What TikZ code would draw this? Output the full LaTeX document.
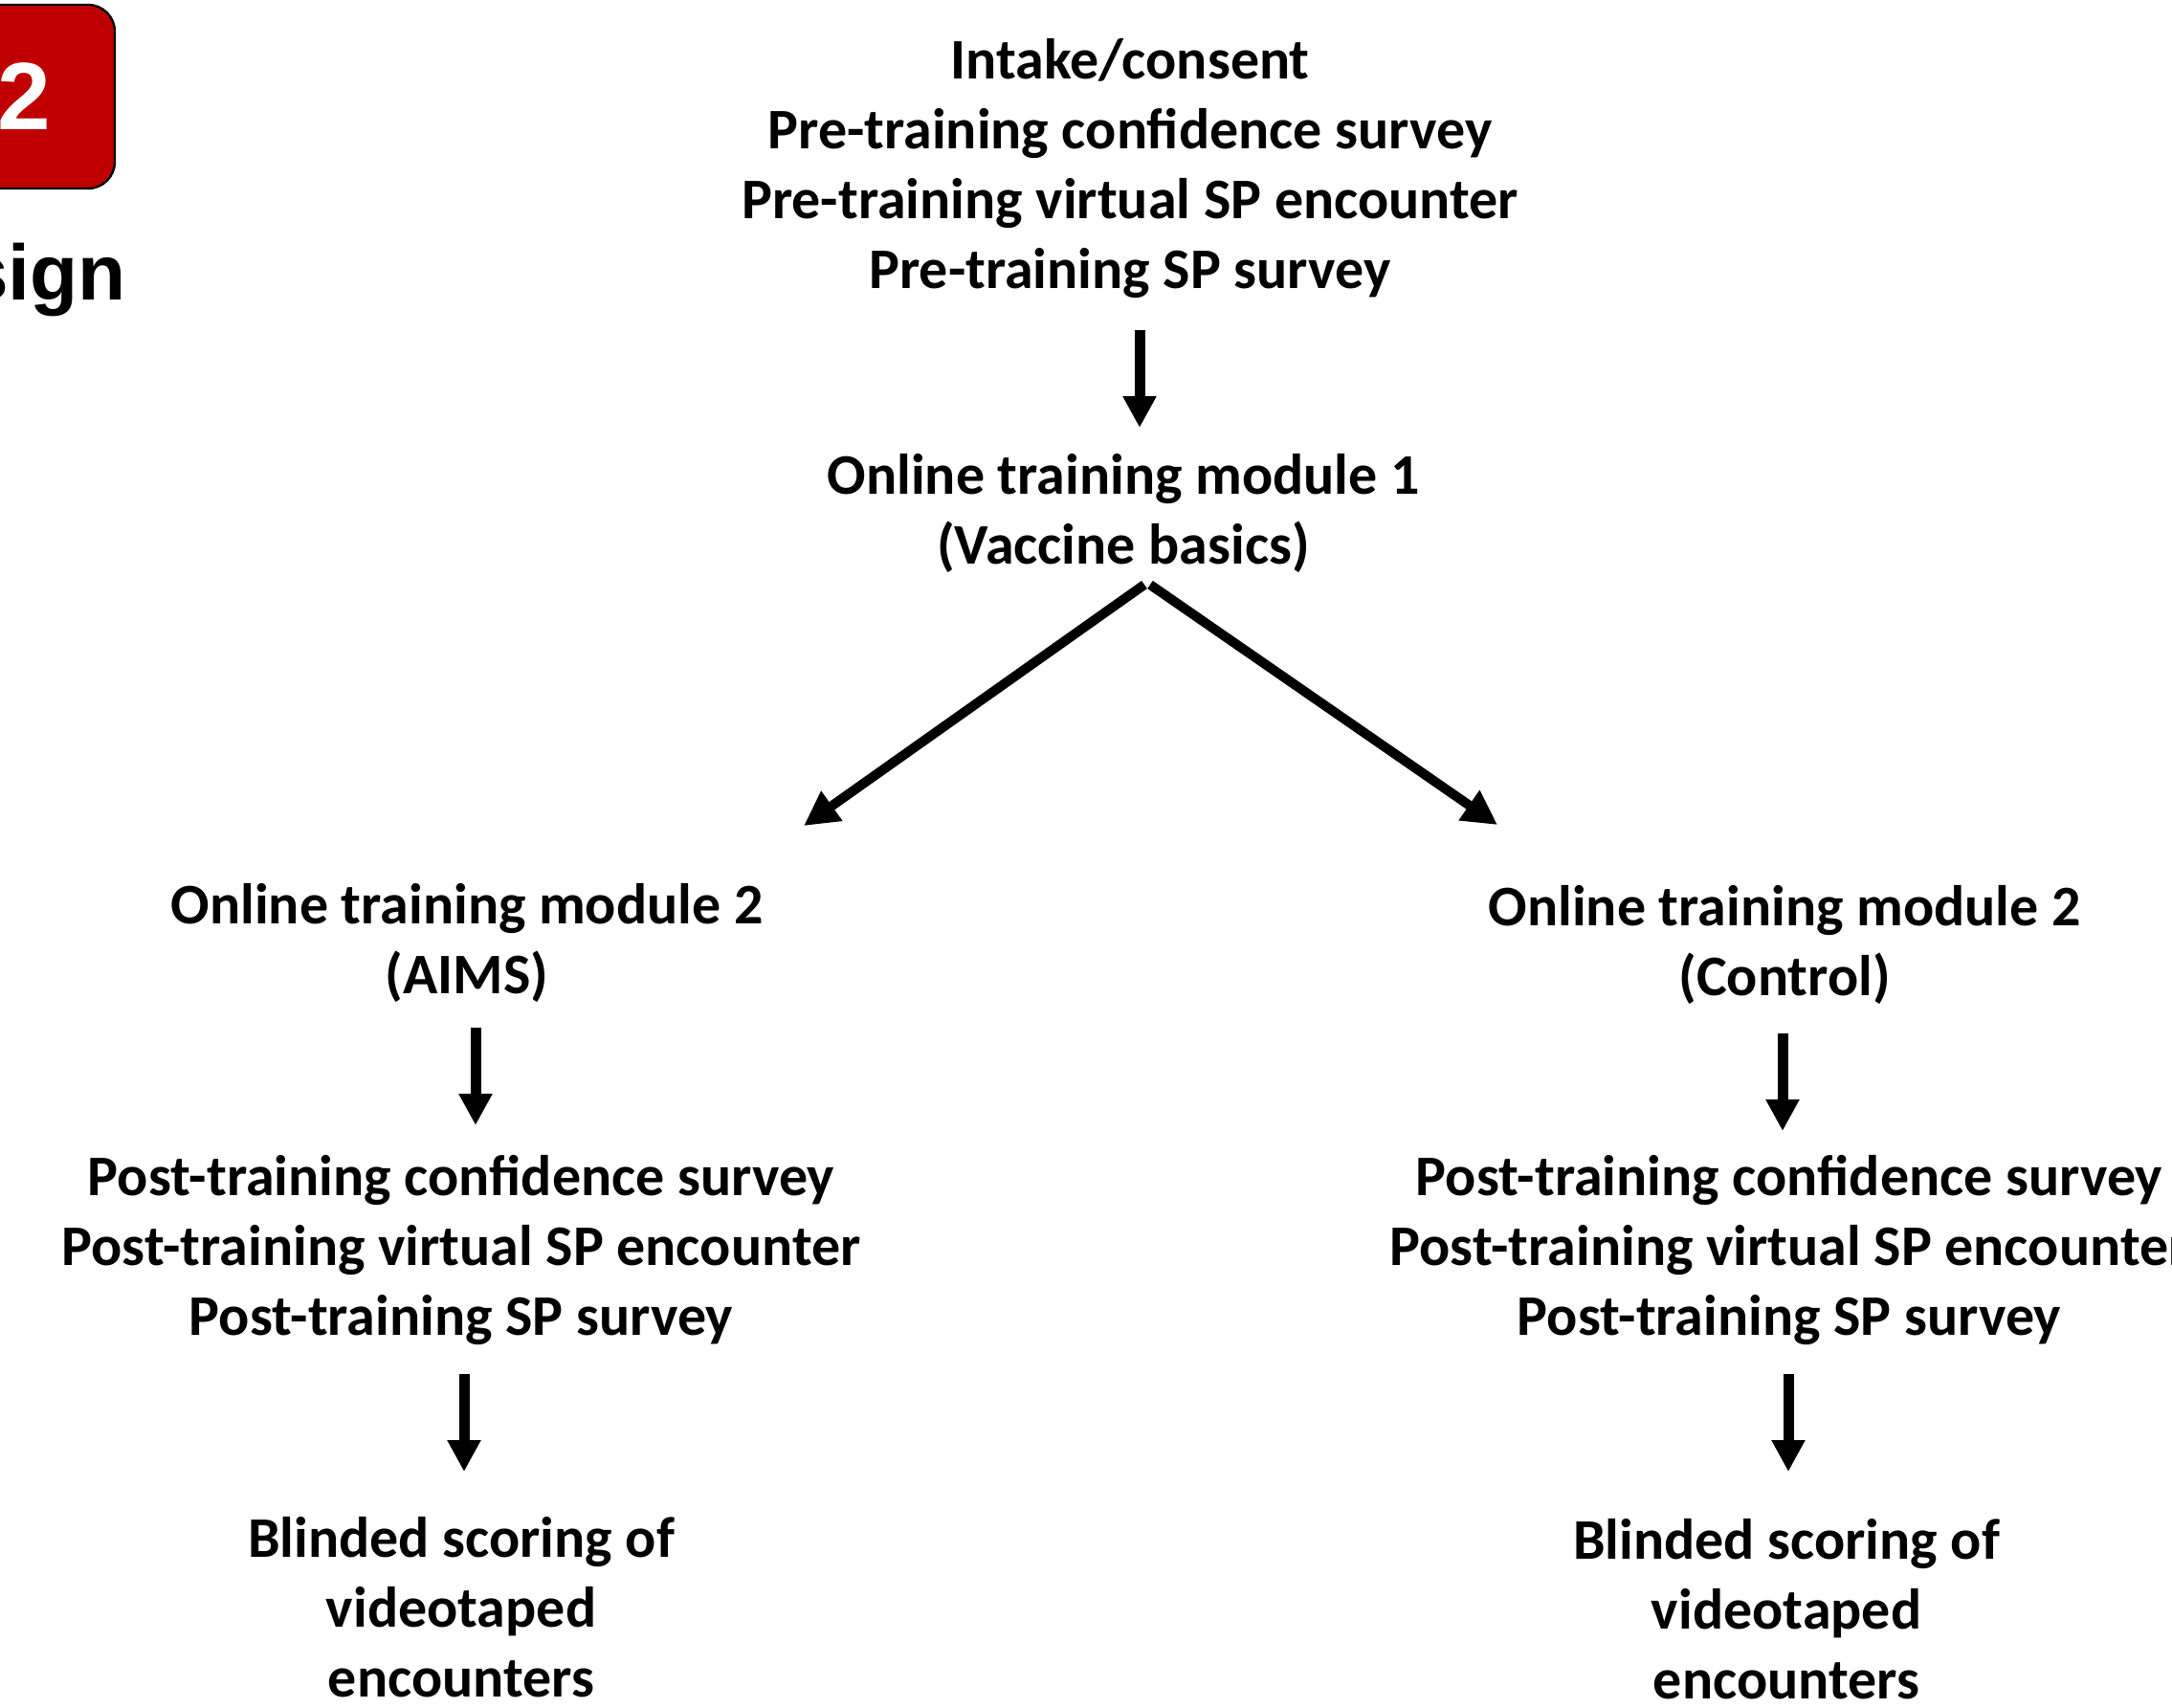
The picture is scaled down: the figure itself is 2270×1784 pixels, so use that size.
\documentclass[tikz,border=0pt]{standalone}
\usepackage{fontspec}
\setmainfont{Carlito}
\newfontfamily\arialfont{Liberation Sans}
\usetikzlibrary{arrows.meta}
\definecolor{badgered}{HTML}{C00000}
\begin{document}
\begin{tikzpicture}[x=0.5pt,y=-0.5pt,
  txt/.style={font=\bfseries\fontsize{30}{36.5}\selectfont, align=center, inner sep=0pt},
  arr/.style={line width=5.5pt, -{Triangle[width=16.5pt,length=16.5pt]}},
  darr/.style={line width=5pt, -{Triangle[width=18pt,length=18pt]}}]
\useasboundingbox (0,0) rectangle (2270,1784);
% badge
\node[draw=black, line width=1.2pt, fill=badgered, rounded corners=14pt,
      minimum width=95pt, minimum height=96pt, inner sep=0pt,
      text=white, font=\arialfont\bfseries\fontsize{50}{50}\selectfont] (badge) at (25,101) {2};
\node[anchor=base east, inner sep=0pt, font=\arialfont\bfseries\fontsize{41}{41}\selectfont] (title) at (132,313) {sign};
% text blocks
\node[txt] (pre) at (1181,176) {Intake/consent\\Pre-training confidence survey\\Pre-training virtual SP encounter\\Pre-training SP survey};
\node[txt] (m1) at (1174,536) {Online training module 1\\(Vaccine basics)};
\node[txt] (m2a) at (488,985) {Online training module 2\\(AIMS)};
\node[txt] (m2c) at (1865,987) {Online training module 2\\(Control)};
\node[txt] (posta) at (482,1306) {Post-training confidence survey\\Post-training virtual SP encounter\\Post-training SP survey};
\node[txt] (postc) at (1870,1306) {Post-training confidence survey\\Post-training virtual SP encounter\\Post-training SP survey};
\node[txt] (blinda) at (482,1680) {Blinded scoring of\\videotaped\\encounters};
\node[txt] (blindc) at (1867,1682) {Blinded scoring of\\videotaped\\encounters};
% arrow end points
\coordinate (a1s) at (1191,345); \coordinate (a1e) at (1191,447);
\coordinate (dls) at (1196,611); \coordinate (dle) at (840,863);
\coordinate (drs) at (1202,611); \coordinate (dre) at (1565,862);
\coordinate (a2s) at (497,1074); \coordinate (a2e) at (497,1176);
\coordinate (a3s) at (1863,1080); \coordinate (a3e) at (1863,1182);
\coordinate (a4s) at (485,1436); \coordinate (a4e) at (485,1538);
\coordinate (a5s) at (1869,1436); \coordinate (a5e) at (1869,1538);
\draw[arr] (a1s) -- (a1e);
\draw[darr] (dls) -- (dle);
\draw[darr] (drs) -- (dre);
\draw[arr] (a2s) -- (a2e);
\draw[arr] (a3s) -- (a3e);
\draw[arr] (a4s) -- (a4e);
\draw[arr] (a5s) -- (a5e);
\end{tikzpicture}
\end{document}
